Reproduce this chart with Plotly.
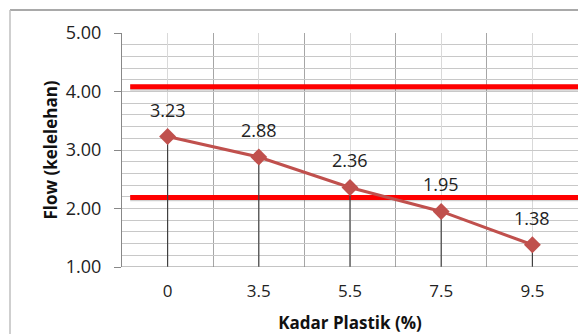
import plotly.graph_objects as go

categories = ["0", "3.5", "5.5", "7.5", "9.5"]
flow_values = [3.23, 2.88, 2.36, 1.95, 1.38]
upper_limit = 4.08
lower_limit = 2.19
y_tick_values = [1, 2, 3, 4, 5]

xpos = list(range(len(categories)))
axis_min = 1.0

fig = go.Figure()

# Limit lines (red)
for lim in (upper_limit, lower_limit):
    fig.add_trace(go.Scatter(
        x=[-0.41, 4.5], y=[lim - 0.015, lim - 0.015], mode="lines",
        line=dict(color="rgba(120,120,120,0.35)", width=6),
        hoverinfo="skip", showlegend=False))
    fig.add_trace(go.Scatter(
        x=[-0.41, 4.5], y=[lim, lim], mode="lines",
        line=dict(color="#FF0000", width=5),
        hoverinfo="skip", showlegend=False))

# Drop lines via error bars
fig.add_trace(go.Scatter(
    x=xpos, y=flow_values, mode="markers",
    marker=dict(size=1, color="rgba(0,0,0,0)"),
    error_y=dict(type="data", symmetric=False,
                 array=[0] * len(flow_values),
                 arrayminus=[v - axis_min for v in flow_values],
                 color="#404040", thickness=1.2, width=0),
    hoverinfo="skip", showlegend=False))

# Main series
fig.add_trace(go.Scatter(
    x=xpos, y=flow_values, mode="lines+markers",
    line=dict(color="#C0504D", width=3),
    marker=dict(symbol="diamond", size=13, color="#C0504D"),
    showlegend=False))

# Data labels
for xv, v in zip(xpos, flow_values):
    fig.add_annotation(x=xv, y=v, text=f"{v:.2f}", showarrow=False,
                       yshift=27, font=dict(family="Open Sans", size=18, color="#222222"))

fig.update_layout(
    width=578, height=334,
    margin=dict(l=122, r=0, t=33, b=67),
    paper_bgcolor="white", plot_bgcolor="white",
    font=dict(family="Open Sans", size=16, color="#222222"),
    xaxis=dict(
        range=[-0.5, 4.5], tickmode="array", tickvals=xpos, ticktext=categories,
        showgrid=True, gridcolor="#D9D9D9", gridwidth=1,
        minor=dict(tickvals=[-0.5, 0.5, 1.5, 2.5, 3.5, 4.5], showgrid=True,
                   gridcolor="#A6A6A6", gridwidth=1),
        showline=False, zeroline=False, ticks="", ticklen=0,
        ticklabelstandoff=12,
        tickfont=dict(family="Open Sans", size=17, color="#222222"),
        title=dict(text="<b>Kadar Plastik (%)</b>", standoff=18,
                   font=dict(family="Open Sans", size=17, color="#111111")),
        fixedrange=True,
    ),
    yaxis=dict(
        range=[1, 5], tickmode="array", tickvals=y_tick_values,
        ticktext=[f"{v:.2f}" for v in y_tick_values],
        showgrid=True, gridcolor="#C8C8C8", gridwidth=1,
        minor=dict(dtick=0.2, showgrid=True, gridcolor="#C8C8C8", gridwidth=1),
        showline=True, linecolor="#888888", linewidth=1,
        ticks="outside", ticklen=7, tickcolor="#888888",
        ticklabelstandoff=9,
        zeroline=False,
        tickfont=dict(family="Open Sans", size=18, color="#222222"),
        title=dict(text="<b>Flow (kelelehan)</b>", standoff=3,
                   font=dict(family="Open Sans", size=17, color="#111111")),
        fixedrange=True,
    ),
    shapes=[
        dict(type="line", xref="paper", yref="paper", x0=-112/456, x1=1.05,
             y0=1 + 23/234, y1=1 + 23/234, line=dict(color="#8C8C8C", width=1.5)),
        dict(type="line", xref="paper", yref="paper", x0=-112/456, x1=-112/456,
             y0=1 + 23/234, y1=-0.4, line=dict(color="#BFBFBF", width=1.5)),
        dict(type="line", xref="x", yref="y", x0=-0.5, x1=4.5, y0=1, y1=1,
             line=dict(color="#888888", width=1)),
    ],
)

fig.write_html("out.html", config={"displayModeBar": False},
               post_script="document.body.style.margin='0px';")
